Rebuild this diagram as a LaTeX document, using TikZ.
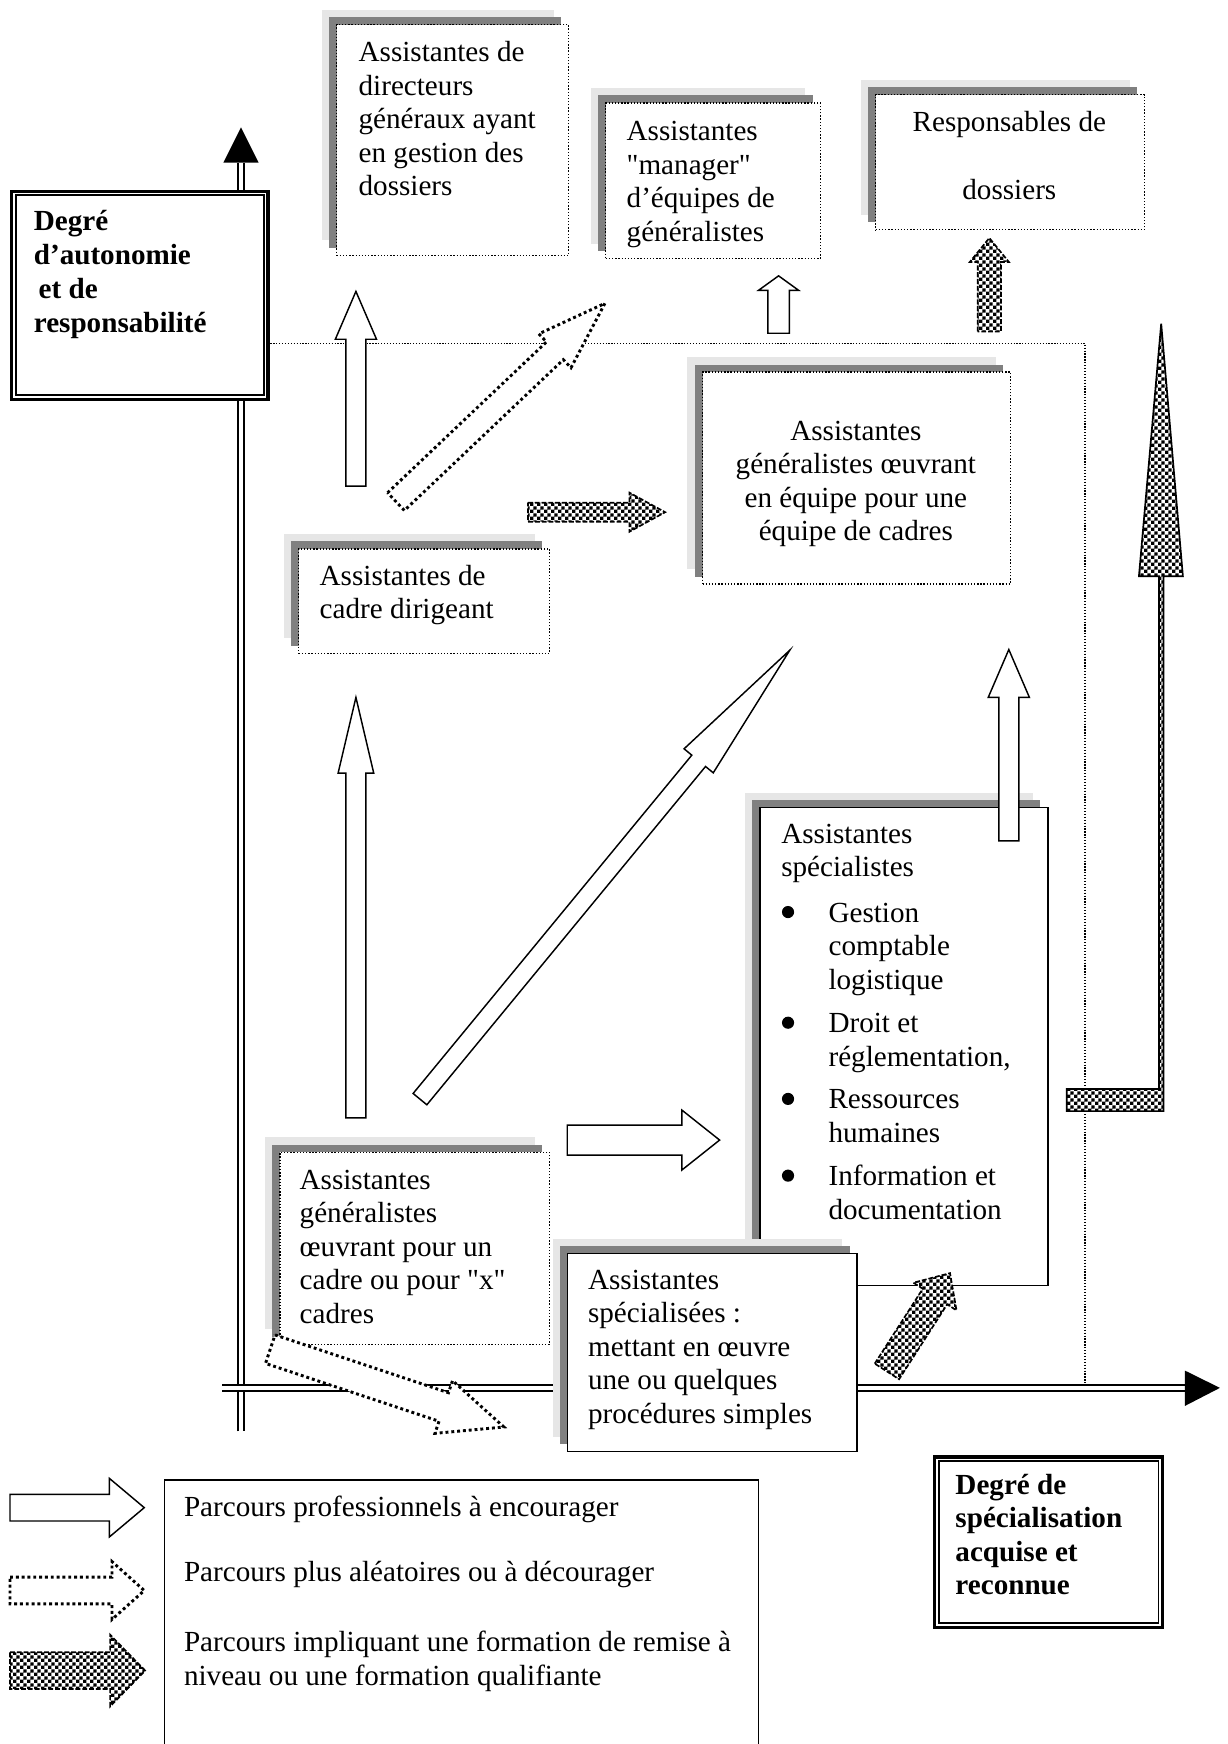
\documentclass[tikz,border=0pt]{standalone}
\usepackage{fontspec}
\setmainfont{Liberation Serif}[Ligatures=TeXOff]
\usetikzlibrary{shadows,patterns}

\definecolor{shadelight}{HTML}{E6E6E6}
\definecolor{shadedark}{HTML}{808080}

% checkerboard for the "training" arrows
\pgfdeclarepatternformonly{finecheck}{\pgfpointorigin}{\pgfpoint{2.8pt}{2.8pt}}{\pgfpoint{2.8pt}{2.8pt}}{%
  \pgfpathrectangle{\pgfpointorigin}{\pgfpoint{1.4pt}{1.4pt}}%
  \pgfpathrectangle{\pgfpoint{1.4pt}{1.4pt}}{\pgfpoint{1.4pt}{1.4pt}}%
  \pgfusepath{fill}}

% block arrow: style, tail centre, angle, length, shaft width, head width, head length
\newcommand\blockarrow[7]{%
  \begin{scope}[shift={#2},rotate=#3]
    \draw[#1] (0,{-(#5)/2}) -- ({#4-#7},{-(#5)/2}) -- ({#4-#7},{-(#6)/2}) -- (#4,0)
      -- ({#4-#7},{(#6)/2}) -- ({#4-#7},{(#5)/2}) -- (0,{(#5)/2}) -- cycle;
  \end{scope}}

\tikzset{
  wh/.style 2 args={minimum width=#1*0.458pt, minimum height=#2*0.458pt},
  shadowed/.style={
    general shadow={shadow xshift=-6.2pt, shadow yshift=6.2pt, fill=shadelight},
    general shadow={shadow xshift=-3.1pt, shadow yshift=3.1pt, fill=shadedark}},
  dotbox/.style={shadowed, draw, fill=white, line width=0.55pt,
    dash pattern=on 0.55pt off 0.75pt, inner sep=0pt, anchor=north west},
  solidbox/.style={shadowed, draw, fill=white, line width=0.6pt,
    inner sep=0pt, anchor=north west},
  dblbox/.style={draw, fill=white, line width=1.3pt, inner sep=0pt, anchor=north west},
  txt/.style={inner sep=0pt, anchor=base west},
  ctxt/.style={inner sep=0pt, anchor=base},
  bullet/.style={circle, fill=black, inner sep=0pt, minimum size=5pt},
  openarrow/.style={draw, fill=white, line width=0.6pt},
  riskarrow/.style={draw, fill=white, line width=1.2pt, dash pattern=on 1.2pt off 1.2pt},
  trainarrow/.style={preaction={fill=white}, pattern=finecheck, draw,
    line width=0.7pt, dash pattern=on 2pt off 0.8pt},
  axisline/.style={draw, double=white, line width=0.7pt, double distance=1.7pt},
  guide/.style={draw, line width=0.5pt, dash pattern=on 0.5pt off 0.7pt}
}

\begin{document}
\begin{tikzpicture}[x=0.458pt, y=-0.458pt, font=\fontsize{12}{13.8}\selectfont]
\useasboundingbox (0,0) rectangle (1104,1568);

% boundary of the general field
\draw[guide] (230,308.7) -- (975.5,308.7) -- (975.5,1247.8);

% axes
\coordinate (vbot) at (216.5,1287);
\coordinate (vtop) at (216.5,146.3);
\coordinate (hleft) at (199.9,1247.8);
\coordinate (hright) at (1065.4,1247.8);
\draw[axisline] (vbot) -- (vtop);
\fill (200.8,146.3) -- (216.7,114.5) -- (232.6,146.3) -- cycle;
\draw[axisline] (hleft) -- (hright);
\fill (1065.4,1232.3) -- (1096.8,1247.8) -- (1065.4,1264) -- cycle;

% axis titles
\node[dblbox, wh={230.5}{187}] (K) at (9,170.5) {};
\draw[line width=0.8pt] ([shift={(2.4pt,-2.4pt)}]K.north west) rectangle ([shift={(-2.4pt,2.4pt)}]K.south east);
\node[txt, font=\fontsize{12}{14}\selectfont\bfseries] (Ktext) at (30,206.8)
  {\parbox[t]{150pt}{\raggedright Degré\\d’autonomie\\\hspace*{2pt}et de\\responsabilité}};

\node[dblbox, wh={205}{153.5}] (J) at (839,1308.5) {};
\draw[line width=0.8pt] ([shift={(2.4pt,-2.4pt)}]J.north west) rectangle ([shift={(-2.4pt,2.4pt)}]J.south east);
\node[txt, font=\fontsize{12}{13.8}\selectfont\bfseries] (Jtext) at (858.6,1343.5)
  {\parbox[t]{150pt}{\raggedright Degré de\\spécialisation\\acquise et\\reconnue}};

% job boxes
\node[dotbox, wh={208.7}{207.4}] (A) at (302,21.6) {};
\node[txt] (Atext) at (322,55.4)
  {\parbox[t]{200pt}{\raggedright Assistantes de\\directeurs\\généraux ayant\\en gestion des\\dossiers}};

\node[dotbox, wh={193}{140}] (B) at (544,92) {};
\node[txt] (Btext) at (563,126.5)
  {\parbox[t]{200pt}{\raggedright Assistantes\\"manager"\\d’équipes de\\généralistes}};

\node[dotbox, wh={241.9}{121.5}] (C) at (786.6,84.5) {};
\node[ctxt] (Ctext) at (907.5,118.5)
  {\parbox[t]{100pt}{\centering Responsables de\\[14pt]dossiers}};

\node[dotbox, wh={277}{190.5}] (D) at (631,334) {};
\node[ctxt] (Dtext) at (769.5,395.6)
  {\parbox[t]{120pt}{\centering Assistantes\\généralistes œuvrant\\en équipe pour une\\équipe de cadres}};

\node[dotbox, wh={225.6}{93.8}] (E) at (268,493) {};
\node[txt] (Etext) at (287,526)
  {\parbox[t]{200pt}{\raggedright Assistantes de\\cadre dirigeant}};

\node[solidbox, wh={259}{429.8}] (F) at (682.5,725.5) {};
\node[txt] (Ftext) at (702,758)
  {\parbox[t]{200pt}{\raggedright Assistantes\\spécialistes}};
\node[bullet] (Fb1) at (708.5,820) {};
\node[txt] (Fi1) at (744.5,829) {\parbox[t]{100pt}{\raggedright Gestion\\comptable\\logistique}};
\node[bullet] (Fb2) at (708.5,919.5) {};
\node[txt] (Fi2) at (744.5,928.5) {\parbox[t]{100pt}{\raggedright Droit et\\réglementation,}};
\node[bullet] (Fb3) at (708.5,988) {};
\node[txt] (Fi3) at (744.5,997) {\parbox[t]{100pt}{\raggedright Ressources\\humaines}};
\node[bullet] (Fb4) at (708.5,1057) {};
\node[txt] (Fi4) at (744.5,1066) {\parbox[t]{100pt}{\raggedright Information et\\documentation}};

\node[dotbox, wh={242.6}{172.5}] (G) at (251,1035.5) {};
\node[txt] (Gtext) at (269,1069)
  {\parbox[t]{200pt}{\raggedright Assistantes\\généralistes\\œuvrant pour un\\cadre ou pour "x"\\cadres}};

\node[solidbox, wh={260.2}{178}] (H) at (509.8,1126.5) {};
\node[txt] (Htext) at (528.3,1159.2)
  {\parbox[t]{200pt}{\raggedright Assistantes\\spécialisées :\\mettant en œuvre\\une ou quelques\\procédures simples}};

% career paths
\blockarrow{openarrow}{(320,437)}{90}{175}{18}{37}{43}
\blockarrow{riskarrow}{(356,451)}{43.5}{259}{22}{42}{62}
\blockarrow{openarrow}{(700,299.6)}{90}{51.6}{19.3}{36}{13}
\blockarrow{trainarrow}{(889.5,298)}{90}{84}{21}{35}{21.5}
\blockarrow{trainarrow}{(474.7,460.5)}{0}{123.3}{17}{35}{32}
\blockarrow{openarrow}{(320,1005)}{90}{378}{18}{32}{68}
\blockarrow{openarrow}{(377.6,988.2)}{50.52}{523.1}{16}{34}{129}
\blockarrow{openarrow}{(907,756)}{90}{172}{18}{37}{43}
\blockarrow{openarrow}{(510,1025)}{0}{137}{27}{54}{34}
\blockarrow{riskarrow}{(243,1213)}{-18.43}{221.4}{27}{50}{57}
\blockarrow{trainarrow}{(797.4,1233)}{57.3}{105}{26}{46}{25}
\draw[preaction={fill=white}, pattern=finecheck, line width=0.7pt]
  (959,979) -- (1042,979) -- (1042,518) -- (1024,518) -- (1044,291)
  -- (1063.5,518) -- (1046,518) -- (1046,999) -- (959,999) -- cycle;

% legend
\draw[line width=0.6pt] (148,1575) -- (148,1330.6) -- (682,1330.6) -- (682,1575);
\blockarrow{openarrow}{(9,1355.5)}{0}{120.7}{24}{52.6}{31.3}
\blockarrow{riskarrow}{(9,1430)}{0}{120.7}{24}{52}{29}
\blockarrow{trainarrow}{(9,1502)}{0}{121.5}{33}{64.5}{31.5}
\node[txt] (L1) at (165,1363.6) {Parcours professionnels à encourager};
\node[txt] (L2) at (165,1422) {Parcours plus aléatoires ou à décourager};
\node[txt] (L3) at (165,1485)
  {\parbox[t]{300pt}{\raggedright Parcours impliquant une formation de remise à\\niveau ou une formation qualifiante}};
\end{tikzpicture}
\end{document}
